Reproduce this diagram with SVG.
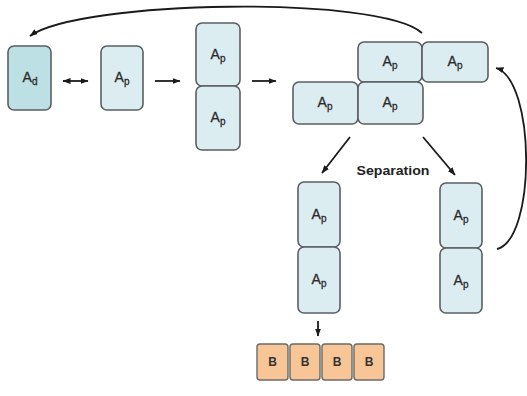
<svg xmlns="http://www.w3.org/2000/svg" width="527" height="396" viewBox="0 0 527 396">
<defs>
<style>
.ap{fill:#dcedf2;stroke:#5a5f62;stroke-width:1.6}
.ad{fill:#bde0e4;stroke:#5a5f62;stroke-width:1.6}
.b{fill:#f8c597;stroke:#6a6a6a;stroke-width:1.4}
.lbl{font-family:"Liberation Sans",Arial,sans-serif;font-size:14px;fill:#2a2a2a;text-anchor:middle;stroke:#2a2a2a;stroke-width:0.3}
.sub{font-size:10px}
.bl{font-family:"Liberation Sans",Arial,sans-serif;font-size:12px;font-weight:bold;fill:#333;text-anchor:middle}
.ln{fill:none;stroke:#1a1a1a;stroke-width:1.8}
</style>
<marker id="ah" viewBox="0 0 8 6" refX="7.5" refY="3" markerWidth="8" markerHeight="6" markerUnits="userSpaceOnUse" orient="auto">
<path d="M0,0 L8,3 L0,6 z" fill="#1a1a1a"/>
</marker>
<marker id="ahs" viewBox="0 0 8 6" refX="0.5" refY="3" markerWidth="8" markerHeight="6" markerUnits="userSpaceOnUse" orient="auto">
<path d="M8,0 L0,3 L8,6 z" fill="#1a1a1a"/>
</marker>
</defs>
<rect width="527" height="396" fill="#ffffff"/>

<g id="connectors">
<path class="ln" d="M422 33 C380 -5 80 0 30 36" marker-end="url(#ah)"/>
<path class="ln" d="M63 81 L88 81" marker-start="url(#ahs)" marker-end="url(#ah)"/>
<path class="ln" d="M155 81 L180 81" marker-end="url(#ah)"/>
<path class="ln" d="M252 81 L276 81" marker-end="url(#ah)"/>
<path class="ln" d="M350 137 L322 173" marker-end="url(#ah)"/>
<path class="ln" d="M423 137 L455 175" marker-end="url(#ah)"/>
<path class="ln" d="M497 249 C536 240 536 80 496 68" marker-end="url(#ah)"/>
<path class="ln" d="M318 321 L318 336" marker-end="url(#ah)"/>
</g>

<g id="n_ad"><rect class="ad" x="8" y="46" width="43" height="64" rx="6"/><text class="lbl" x="30" y="82">A<tspan class="sub" dy="3">d</tspan></text></g>
<g id="n_ap1"><rect class="ap" x="101" y="46" width="42" height="64" rx="6"/><text class="lbl" x="122" y="82">A<tspan class="sub" dy="3">p</tspan></text></g>
<g id="n_ap2a"><rect class="ap" x="196" y="23" width="44" height="63" rx="6"/><text class="lbl" x="218" y="59">A<tspan class="sub" dy="3">p</tspan></text></g>
<g id="n_ap2b"><rect class="ap" x="196" y="86" width="44" height="64" rx="6"/><text class="lbl" x="218" y="122">A<tspan class="sub" dy="3">p</tspan></text></g>

<g id="n_c1"><rect class="ap" x="358" y="42" width="64" height="40" rx="6"/><text class="lbl" x="390" y="66">A<tspan class="sub" dy="3">p</tspan></text></g>
<g id="n_c2"><rect class="ap" x="422" y="42" width="66" height="40" rx="6"/><text class="lbl" x="455" y="66">A<tspan class="sub" dy="3">p</tspan></text></g>
<g id="n_c3"><rect class="ap" x="293" y="82" width="65" height="42" rx="6"/><text class="lbl" x="325" y="107">A<tspan class="sub" dy="3">p</tspan></text></g>
<g id="n_c4"><rect class="ap" x="358" y="82" width="65" height="42" rx="6"/><text class="lbl" x="390" y="107">A<tspan class="sub" dy="3">p</tspan></text></g>

<g id="separation"><text x="393" y="175" font-family="'Liberation Sans',Arial,sans-serif" font-size="13" font-weight="bold" fill="#222" text-anchor="middle" textLength="73" lengthAdjust="spacingAndGlyphs">Separation</text></g>

<g id="n_l1"><rect class="ap" x="298" y="182" width="42" height="65" rx="6"/><text class="lbl" x="319" y="219">A<tspan class="sub" dy="3">p</tspan></text></g>
<g id="n_l2"><rect class="ap" x="298" y="247" width="42" height="66" rx="6"/><text class="lbl" x="319" y="284">A<tspan class="sub" dy="3">p</tspan></text></g>
<g id="n_r1"><rect class="ap" x="440" y="183" width="42" height="65" rx="6"/><text class="lbl" x="461" y="220">A<tspan class="sub" dy="3">p</tspan></text></g>
<g id="n_r2"><rect class="ap" x="440" y="248" width="42" height="65" rx="6"/><text class="lbl" x="461" y="285">A<tspan class="sub" dy="3">p</tspan></text></g>

<g id="n_b1"><rect class="b" x="257" y="344" width="31" height="36" rx="3"/><text class="bl" x="272.5" y="366">B</text></g>
<g id="n_b2"><rect class="b" x="290" y="344" width="30" height="36" rx="3"/><text class="bl" x="305" y="366">B</text></g>
<g id="n_b3"><rect class="b" x="322" y="344" width="30" height="36" rx="3"/><text class="bl" x="337" y="366">B</text></g>
<g id="n_b4"><rect class="b" x="354" y="344" width="30" height="36" rx="3"/><text class="bl" x="369" y="366">B</text></g>
</svg>
